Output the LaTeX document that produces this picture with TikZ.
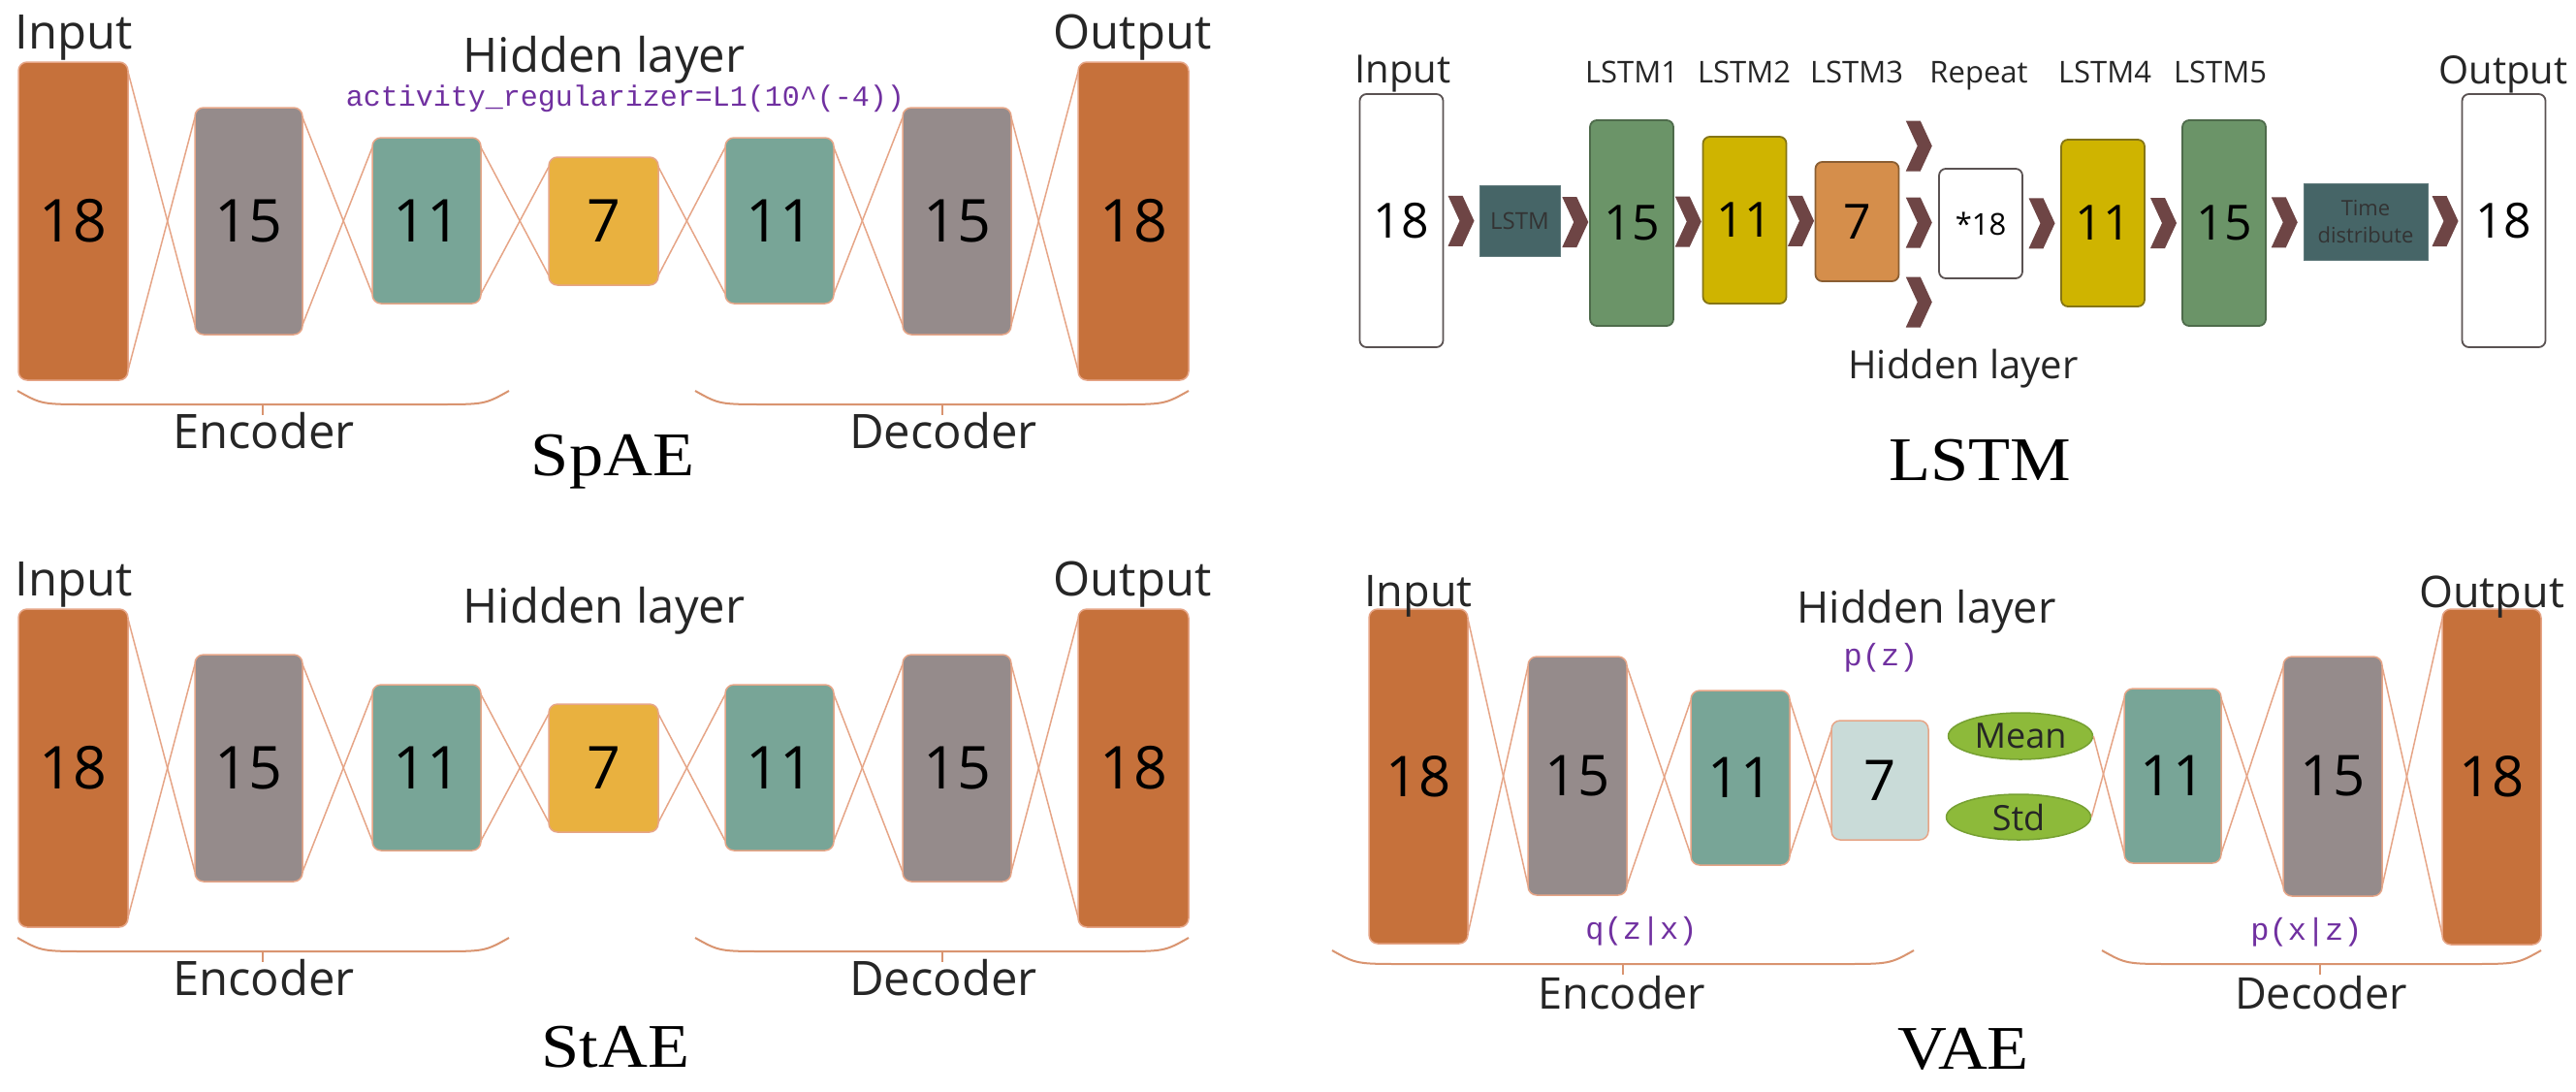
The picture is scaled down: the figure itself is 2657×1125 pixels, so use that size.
\documentclass[tikz,border=0pt]{standalone}
\usepackage{fontspec}
\usetikzlibrary{calc,shapes.geometric}
\newfontfamily\labf{Open Sans}
\newfontfamily\monof{Liberation Mono}
\newfontfamily\titf[FakeStretch=1.1]{Liberation Serif}
\definecolor{orng}{HTML}{C6713B}
\definecolor{gry}{HTML}{958B8B}
\definecolor{teal2}{HTML}{78A597}
\definecolor{yel}{HTML}{E9B13F}
\definecolor{pale}{HTML}{C9DBD8}
\definecolor{lnc}{HTML}{E6A587}
\definecolor{brc}{HTML}{D99470}
\definecolor{purp}{HTML}{7030A0}
\definecolor{chevc}{HTML}{6E4545}
\definecolor{lgreen}{HTML}{6B9468}
\definecolor{lgreenb}{HTML}{4E6B4B}
\definecolor{lyel}{HTML}{CFB400}
\definecolor{lyelb}{HTML}{857515}
\definecolor{lorng}{HTML}{D58E4B}
\definecolor{lorngb}{HTML}{8A5E33}
\definecolor{dteal}{HTML}{466567}
\definecolor{wbord}{HTML}{5A5252}
\definecolor{elg}{HTML}{8DBA3A}
\definecolor{elgb}{HTML}{76A032}
\tikzset{
  blk/.style={rectangle,rounded corners=9pt,draw=lnc,line width=1.5pt,inner sep=0pt,outer sep=0pt},
  lbox/.style={rectangle,rounded corners=7pt,line width=1.8pt,inner sep=0pt,outer sep=0pt,minimum width=86pt},
  num/.style={font=\labf\fontsize{#1}{#1}\selectfont,text=black},
  lab/.style={font=\labf\fontsize{#1}{#1}\selectfont,inner sep=0pt,anchor=base,text=black!85},
  mono/.style={font=\monof\fontsize{#1}{#1}\selectfont,text=purp,inner sep=0pt,anchor=base},
  ttl/.style={font=\titf\fontsize{64}{64}\selectfont,inner sep=0pt,anchor=base},
  conn/.style={draw=lnc,line width=1.5pt},
  brk/.style={draw=brc,line width=2pt},
  chev/.pic={\fill[chevc] (-13.5,-26) -- (1.5,-26) -- (13.5,0) -- (1.5,26) -- (-13.5,26) -- (-1.5,0) -- cycle;}
}
\newcommand\xcon[2]{%
  \draw[conn] ([yshift=-10pt]#1.north east) -- ([yshift=10pt]#2.south west);
  \draw[conn] ([yshift=10pt]#1.south east) -- ([yshift=-10pt]#2.north west);}
\newcommand\brak[4]{%
  \draw[brk] (#1,#3) .. controls (#1+25,#3+14) .. (#1+75,#3+14) -- (#2-75,#3+14) .. controls (#2-25,#3+14) .. (#2,#3);
  \draw[brk] (#4,#3+14) -- (#4,#3+25);}
\newcommand\aepanel[2]{%
  \node[blk,fill=orng,minimum width=113pt,minimum height=328pt,num=61] (#1-1) at (75.5,228) {18};
  \node[blk,fill=gry,minimum width=111pt,minimum height=234pt,num=61] (#1-2) at (256.5,228) {15};
  \node[blk,fill=teal2,minimum width=112pt,minimum height=171pt,num=61] (#1-3) at (440,227.5) {11};
  \node[blk,fill=yel,minimum width=113pt,minimum height=132pt,num=61] (#1-4) at (622.5,228) {7};
  \node[blk,fill=teal2,minimum width=112pt,minimum height=171pt,num=61] (#1-5) at (804,227.5) {11};
  \node[blk,fill=gry,minimum width=112pt,minimum height=234pt,num=61] (#1-6) at (987,228) {15};
  \node[blk,fill=orng,minimum width=114pt,minimum height=328pt,num=61] (#1-7) at (1169,228) {18};
  \xcon{#1-1}{#1-2}\xcon{#1-2}{#1-3}\xcon{#1-3}{#1-4}\xcon{#1-4}{#1-5}\xcon{#1-5}{#1-6}\xcon{#1-6}{#1-7}
  \node[lab=49] (#1-in) at (76,50) {Input};
  \node[lab=49] (#1-out) at (1168,50) {Output};
  \node[lab=49] (#1-hid) at (623,#2) {Hidden layer};
  \node[lab=49] (#1-enc) at (272,462) {Encoder};
  \node[lab=49] (#1-dec) at (973,462) {Decoder};
  \brak{18}{525}{403}{271}
  \brak{717}{1226}{403}{972}
}
\begin{document}
\begin{tikzpicture}[x=1pt,y=-1pt]
\fill[white] (0,0) rectangle (2657,1125);
\useasboundingbox (0,0) rectangle (2657,1125);

% ---------- SpAE ----------
\aepanel{a}{74}
\node[mono=30] (a-reg) at (645,109) {activity\_regularizer=L1(10\string^(-4))};
\node[ttl] (a-tit) at (632,490) {SpAE};

% ---------- StAE ----------
\begin{scope}[yshift=-564pt]
\aepanel{b}{78}
\end{scope}
\node[ttl] (b-tit) at (635,1100) {StAE};

% ---------- LSTM ----------
\node[lbox,draw=wbord,fill=white,minimum height=261pt,num=50] (li) at (1445.5,227.5) {18};
\node[rectangle,fill=dteal,draw=dteal!85!white,line width=1pt,inner sep=0pt,minimum width=83pt,minimum height=73pt,font=\labf\fontsize{24}{24}\selectfont,text=black!80] (ll) at (1567.5,228) {LSTM};
\node[lbox,draw=lgreenb,fill=lgreen,minimum height=212pt,num=50] (l1) at (1683,230) {15};
\node[lbox,draw=lyelb,fill=lyel,minimum height=172pt,num=50] (l2) at (1799.5,227) {11};
\node[lbox,draw=lorngb,fill=lorng,minimum height=123pt,num=50] (l3) at (1915.5,228.5) {7};
\node[lbox,draw=wbord,fill=white,minimum height=113pt,num=31] (lr) at (2043,230.5) {*18};
\node[lbox,draw=lyelb,fill=lyel,minimum height=172pt,num=50] (l4) at (2169,230) {11};
\node[lbox,draw=lgreenb,fill=lgreen,minimum height=212pt,num=50] (l5) at (2294,230) {15};
\node[rectangle,fill=dteal,draw=dteal!85!white,line width=1pt,inner sep=0pt,minimum width=128pt,minimum height=79pt,align=center,font=\labf\fontsize{22}{28}\selectfont,text=black!80] (lt) at (2440,228.5) {Time\\distribute};
\node[lbox,draw=wbord,fill=white,minimum height=261pt,num=50] (lo) at (2582.5,227.5) {18};

\path ($(li.east)!0.5!(ll.west)$) pic {chev};
\path ($(ll.east)!0.5!(l1.west)$) pic {chev};
\path ($(l1.east)!0.5!(l2.west)$) pic {chev};
\path ($(l2.east)!0.5!(l3.west)$) pic {chev};
\coordinate (rc) at ($(l3.east)!0.5!(lr.west)$);
\path (rc) pic {chev} ([yshift=79pt]rc) pic {chev} ([yshift=-82pt]rc) pic {chev};
\path ($(lr.east)!0.5!(l4.west)$) pic {chev};
\path ($(l4.east)!0.5!(l5.west)$) pic {chev};
\path ($(l5.east)!0.5!(lt.west)$) pic {chev};
\path ($(lt.east)!0.5!(lo.west)$) pic {chev};

\node[lab=40] (l-in) at (1447,85) {Input};
\node[lab=40] (l-out) at (2582,86) {Output};
\node[lab=31] (l-t1) at (1683,85) {LSTM1};
\node[lab=31] (l-t2) at (1799,85) {LSTM2};
\node[lab=31] (l-t3) at (1915,85) {LSTM3};
\node[lab=31] (l-tr) at (2041,85) {Repeat};
\node[lab=31] (l-t4) at (2171,85) {LSTM4};
\node[lab=31] (l-t5) at (2290,85) {LSTM5};
\node[lab=40] (l-hid) at (2025,390) {Hidden layer};
\node[ttl] (l-tit) at (2042,495) {LSTM};

% ---------- VAE ----------
\node[blk,fill=orng,minimum width=102pt,minimum height=345pt,num=58] (v1) at (1463,800.5) {18};
\node[blk,fill=gry,minimum width=102pt,minimum height=246pt,num=58] (v2) at (1627,800) {15};
\node[blk,fill=teal2,minimum width=102pt,minimum height=180pt,num=58] (v3) at (1795,802) {11};
\node[blk,fill=pale,minimum width=100pt,minimum height=123pt,num=58] (v4) at (1939,804.5) {7};
\node[ellipse,fill=elg,draw=elgb,line width=1.5pt,inner sep=0pt,minimum width=149pt,minimum height=48pt,font=\labf\fontsize{36}{36}\selectfont,text=black!85] (vm) at (2084,759) {Mean};
\node[ellipse,fill=elg,draw=elgb,line width=1.5pt,inner sep=0pt,minimum width=149pt,minimum height=47pt,font=\labf\fontsize{36}{36}\selectfont,text=black!85] (vs) at (2082,842.5) {Std};
\node[blk,fill=teal2,minimum width=100pt,minimum height=180pt,num=58] (v5) at (2241,800) {11};
\node[blk,fill=gry,minimum width=102pt,minimum height=247pt,num=58] (v6) at (2406,800.5) {15};
\node[blk,fill=orng,minimum width=102pt,minimum height=346pt,num=58] (v7) at (2570,801) {18};
\xcon{v1}{v2}\xcon{v2}{v3}\xcon{v3}{v4}
\draw[conn] (vm.east) -- ([yshift=10pt]v5.south west);
\draw[conn] (vs.east) -- ([yshift=-10pt]v5.north west);
\xcon{v5}{v6}\xcon{v6}{v7}

\node[lab=45] (v-in) at (1463,625) {Input};
\node[lab=45] (v-out) at (2570,626) {Output};
\node[lab=45] (v-hid) at (1987,642) {Hidden layer};
\node[mono=32] (v-pz) at (1940,686) {p(z)};
\node[mono=32] (v-q) at (1693,968) {q(z|x)};
\node[mono=32] (v-p) at (2379,969) {p(x|z)};
\brak{1374}{1974}{980}{1674}
\brak{2168}{2621}{980}{2393}
\node[lab=45] (v-enc) at (1673,1040) {Encoder};
\node[lab=45] (v-dec) at (2394,1040) {Decoder};
\node[ttl] (v-tit) at (2025,1102) {VAE};
\end{tikzpicture}
\end{document}
